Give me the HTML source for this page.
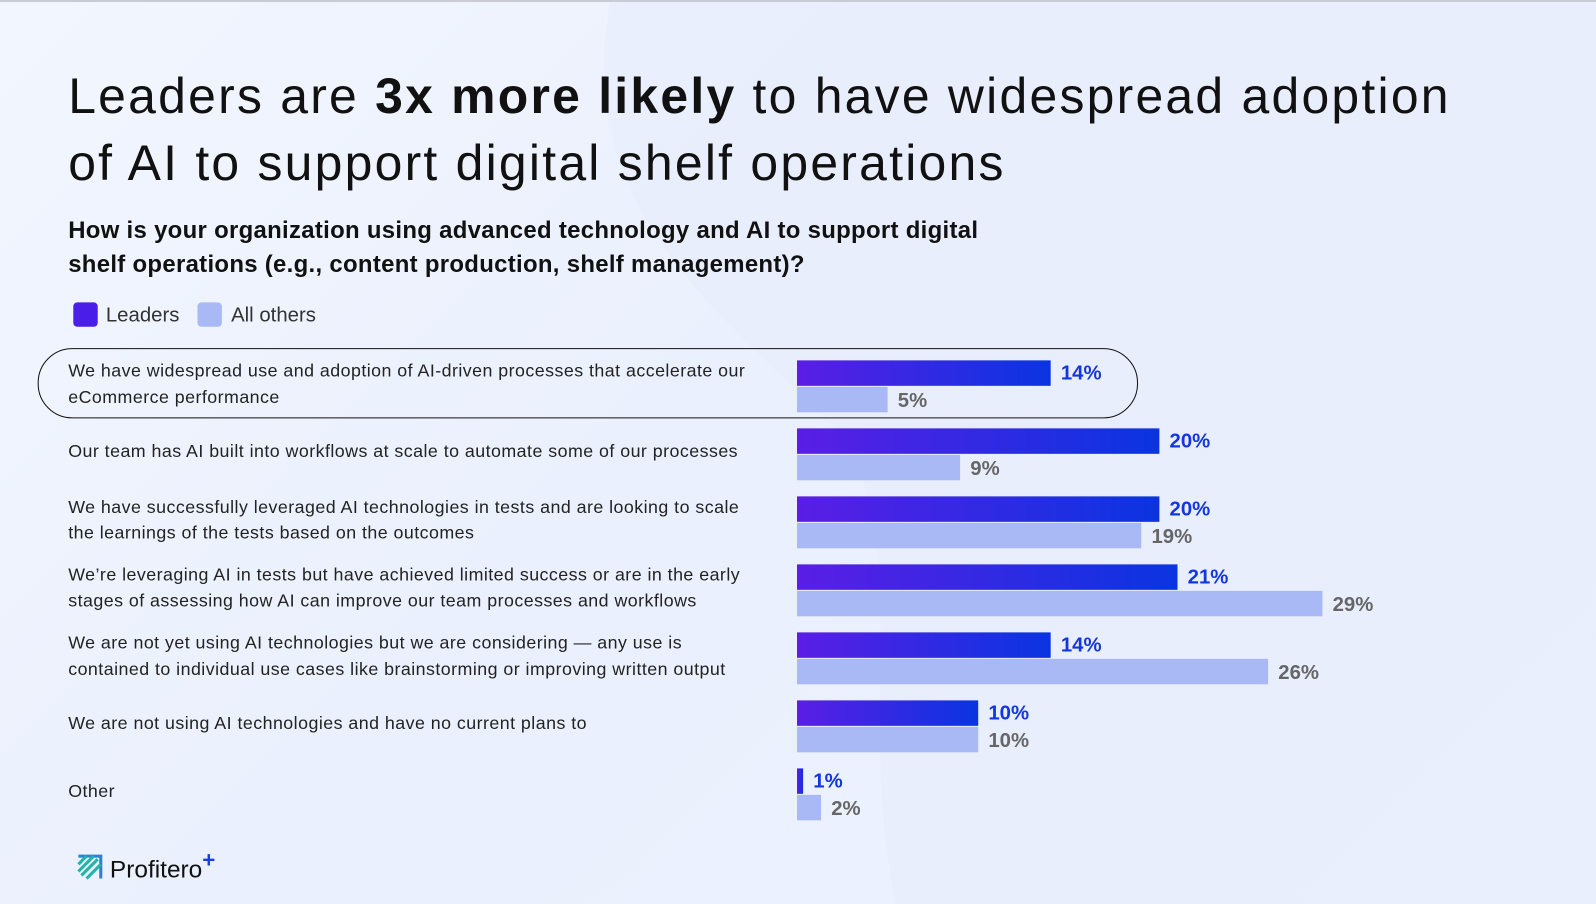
<!DOCTYPE html>
<html><head><meta charset="utf-8">
<style>
html,body{margin:0;padding:0;width:1596px;height:904px;overflow:hidden;background:#eef2fd;}
#wrap{position:absolute;left:0;top:0;width:1568px;height:888px;transform:scale(1.0179,1.018);transform-origin:0 0;font-family:"Liberation Sans",sans-serif;
background:linear-gradient(135deg,#f2f6fe 0%,#eaf0fd 45%,#edf2fe 100%);}
.t{position:absolute;white-space:nowrap;}
</style></head><body>
<div id="wrap">
<svg width="1568" height="888" style="position:absolute;left:0;top:0">
<path d="M600 0 C 560 200, 700 300, 820 420 C 900 520, 840 700, 880 888 L1568 888 L1568 0 Z" fill="#e8eefd" opacity="0.8"/>
<rect x="0" y="0" width="1568" height="2" fill="#c9ccd4"/>
</svg>
<div class="t" style="left:67px;top:62px;font-size:49px;letter-spacing:2.2px;color:#111;line-height:66px">Leaders are <b>3x more likely</b> to have widespread adoption<br>of AI to support digital shelf operations</div>
<div class="t" style="left:67px;top:210px;font-size:23.5px;letter-spacing:0.3px;font-weight:bold;color:#111;line-height:33px">How is your organization using advanced technology and AI to support digital<br>shelf operations (e.g., content production, shelf management)?</div>
<div style="position:absolute;left:72px;top:297px;width:24px;height:24px;border-radius:4px;background:#4a1ee8"></div>
<div class="t" style="left:104px;top:299px;font-size:20px;color:#333">Leaders</div>
<div style="position:absolute;left:194px;top:297px;width:24px;height:24px;border-radius:4px;background:#a9b9f5"></div>
<div class="t" style="left:227px;top:299px;font-size:20px;color:#333">All others</div>
<div style="position:absolute;left:37px;top:342px;width:1079px;height:67px;border:1.5px solid #111;border-radius:34px"></div>
<svg id="chart" width="1568" height="888" style="position:absolute;left:0;top:0">
<defs><linearGradient id="lg" x1="0" x2="1"><stop offset="0" stop-color="#5a1ee6"/><stop offset="1" stop-color="#0a34e0"/></linearGradient></defs>
</svg>
<div id="labels"></div>
<svg width="40" height="28" style="position:absolute;left:75px;top:839px">
<path d="M2 2 L24 2 L24 24" fill="none" stroke="#2a7fd6" stroke-width="3"/>
<path d="M2 10 L10 2 M2 17 L17 2 M5 21 L21 5 M10 24 L24 10" stroke="#1fb5a8" stroke-width="3"/>
</svg>
<div class="t" style="left:108px;top:832px;font-size:24px;color:#111">Profitero<span style="color:#1a3fe0;font-weight:bold;font-size:22px;vertical-align:10px">+</span></div>
</div>
<script>
const categories=["We have widespread use and adoption of AI-driven processes that accelerate our<br>eCommerce performance","Our team has AI built into workflows at scale to automate some of our processes","We have successfully leveraged AI technologies in tests and are looking to scale<br>the learnings of the tests based on the outcomes","We’re leveraging AI in tests but have achieved limited success or are in the early<br>stages of assessing how AI can improve our team processes and workflows","We are not yet using AI technologies but we are considering — any use is<br>contained to individual use cases like brainstorming or improving written output","We are not using AI technologies and have no current plans to","Other"];
const leaders=[14,20,20,21,14,10,1];
const others=[5,9,19,29,26,10,2];
const x0=783, pxPer=17.8, y0=354, pitch=66.8, bh=25;
const xs=v=>x0+Math.max(6,v*pxPer-(v<3?12:0));
const svg=document.getElementById('chart'), lab=document.getElementById('labels');
const NS='http://www.w3.org/2000/svg';
categories.forEach((c,i)=>{
  const y=y0+i*pitch;
  const r1=document.createElementNS(NS,'rect');
  r1.setAttribute('x',x0);r1.setAttribute('y',y);r1.setAttribute('width',xs(leaders[i])-x0);r1.setAttribute('height',bh);r1.setAttribute('fill','url(#lg)');
  
  
  svg.appendChild(r1);
  const r2=document.createElementNS(NS,'rect');
  r2.setAttribute('x',x0);r2.setAttribute('y',y+bh+1);r2.setAttribute('width',xs(others[i])-x0);r2.setAttribute('height',bh);r2.setAttribute('fill','#a9b9f5');
  
  
  svg.appendChild(r2);
  const t1=document.createElementNS(NS,'text');
  t1.setAttribute('x',xs(leaders[i])+10);t1.setAttribute('y',y+19);t1.setAttribute('font-size','20');t1.setAttribute('font-weight','bold');t1.setAttribute('fill','#1436e0');t1.setAttribute('font-family','Liberation Sans, sans-serif');
  t1.textContent=leaders[i]+'%';
  
  
  svg.appendChild(t1);
  const t2=document.createElementNS(NS,'text');
  t2.setAttribute('x',xs(others[i])+10);t2.setAttribute('y',y+bh+21);t2.setAttribute('font-size','20');t2.setAttribute('font-weight','bold');t2.setAttribute('fill','#666');t2.setAttribute('font-family','Liberation Sans, sans-serif');
  t2.textContent=others[i]+'%';
  
  
  svg.appendChild(t2);
  const d=document.createElement('div');
  d.className='t';
  const two=c.indexOf('<br>')>=0;
  d.style.cssText='left:67px;top:'+(y+(two?-2:10))+'px;font-size:17.5px;letter-spacing:0.45px;color:#222;line-height:25.5px';
  d.innerHTML=c;
  
  
  lab.appendChild(d);
});
</script>
</body></html>
